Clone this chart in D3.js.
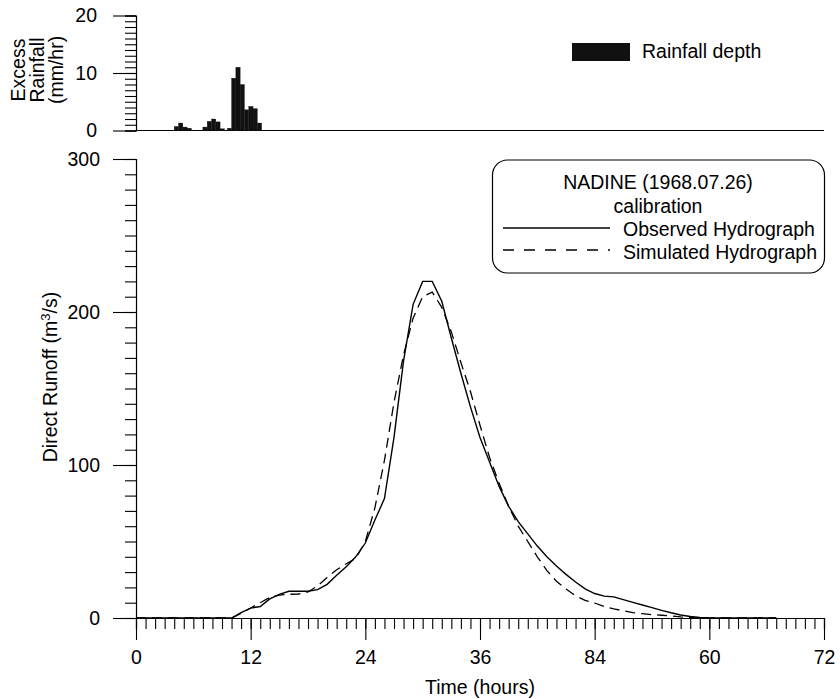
<!DOCTYPE html>
<html>
<head>
<meta charset="utf-8">
<script src="https://cdn.jsdelivr.net/npm/d3@7"></script>
<style>
  html, body { margin: 0; padding: 0; background: #fff; }
  svg { display: block; font-family: "Liberation Sans", Arial, sans-serif; }
</style>
</head>
<body>
<svg id="chart" width="840" height="699"></svg>
<script>
// ---------------- data ----------------
const hours = [0,1,2,3,4,5,6,7,8,9,10,11,12,13,14,15,16,17,18,19,20,21,22,23,24,25,26,27,28,29,30,31,32,33,34,35,36,37,38,39,40,41,42,43,44,45,46,47,48,49,50,51,52,53,54,55,56,57,58,59,60,61,62,63,64,65,66,67];
const observed = [0,0,0,0,0,0,0,0,0,0,0,3.5,6.5,7.5,12.5,15.5,17.5,17.5,17.5,18.5,22,28,33.5,40,49,64,78,118,168,205,220,220,207,183,160,138,118,102,86,73,63,55,47,40,34,28.5,23.5,19,16,14.3,13.8,12,10.2,8.5,6.8,5,3.4,2,1,0.3,0,0,0,0,0,0,0,0];
const simulated = [0,0,0,0,0,0,0,0,0,0,0,3,6.5,10,13.5,15,15.5,15.7,17,21,26.5,31.5,35.5,39,50,72,103,141,172,196,210,213,203,187,167,148,126,105,88,73,60,50,40,31,24,19,14.5,11.5,9.8,7.5,6,4.7,3.5,2.8,2.2,1.8,1.3,0.7,0.3,0,0,0,0,0,0,0,0,0];

const rainTime  = [4.0,4.45,4.9,5.35, 7.0,7.45,7.9,8.35,8.8,9.55, 10.0,10.45,10.9,11.35,11.8,12.25,12.7];
const rainValue = [0.7,1.3,0.6,0.4, 0.6,1.6,2.0,1.5,0.3,0.4, 9.1,11.0,8.0,3.6,4.2,3.8,1.3];
const rainStep = 0.45;

const xTickValues = [0,12,24,36,48,60,72];
const xTickLabels = ["0","12","24","36","84","60","72"];
const yMainTicks = [0,100,200,300];
const yRainTicks = [0,10,20];

const legendTitle = ["NADINE (1968.07.26)", "calibration"];
const seriesNames = ["Observed Hydrograph", "Simulated Hydrograph"];

// ---------------- layout ----------------
const svg = d3.select("#chart");
const FONT = 19.5;
const x = d3.scaleLinear().domain([0,72]).range([136,824]);
const yMain = d3.scaleLinear().domain([0,300]).range([618,159]);
const yRain = d3.scaleLinear().domain([0,20]).range([130.5,15.5]);

function styleAxis(g) {
  g.select(".domain").attr("stroke","#000").attr("stroke-width",1.2);
  g.selectAll(".tick line").attr("stroke","#000").attr("stroke-width",1.1);
  g.selectAll(".tick text").attr("font-size",FONT).attr("fill","#000")
    .attr("font-family",'"Liberation Sans", Arial, sans-serif');
}

// ---- top panel: rainfall ----
svg.append("g").attr("transform",`translate(${x(0)},0)`)
  .call(d3.axisLeft(yRain).tickValues(d3.range(0,21,1)).tickSize(11).tickFormat(""))
  .call(styleAxis);
svg.append("g").attr("transform",`translate(${x(0)},0)`)
  .call(d3.axisLeft(yRain).tickValues(yRainTicks).tickSize(23).tickPadding(16).tickFormat(d3.format("d")))
  .call(styleAxis)
  .call(g => g.select(".domain").remove());
svg.append("line").attr("x1",x(0)).attr("x2",x(72)).attr("y1",yRain(0)).attr("y2",yRain(0))
  .attr("stroke","#000").attr("stroke-width",1.2);

svg.append("g").selectAll("rect").data(rainTime).join("rect")
  .attr("x",(d)=>x(d))
  .attr("width",(d)=>x(d+rainStep)-x(d))
  .attr("y",(d,i)=>yRain(rainValue[i]))
  .attr("height",(d,i)=>yRain(0)-yRain(rainValue[i]))
  .attr("fill","#111").attr("stroke","#111").attr("stroke-width",0.3);

const rainLabel = ["Excess","Rainfall","(mm/hr)"];
svg.append("g").selectAll("text").data(rainLabel).join("text")
  .attr("transform",(d,i)=>`translate(${25+i*19},70) rotate(-90)`)
  .attr("text-anchor","middle").attr("font-size",FONT).attr("fill","#000")
  .text(d=>d);

svg.append("rect").attr("x",572).attr("y",43).attr("width",58).attr("height",18).attr("fill","#111");
svg.append("text").attr("x",642).attr("y",58).attr("font-size",FONT).attr("fill","#000").text("Rainfall depth");

// ---- main panel ----
svg.append("g").attr("transform",`translate(${x(0)},0)`)
  .call(d3.axisLeft(yMain).tickValues(d3.range(0,301,10)).tickSize(11).tickFormat(""))
  .call(styleAxis);
svg.append("g").attr("transform",`translate(${x(0)},0)`)
  .call(d3.axisLeft(yMain).tickValues(yMainTicks).tickSize(23).tickPadding(13).tickFormat(d3.format("d")))
  .call(styleAxis)
  .call(g => g.select(".domain").remove());
svg.append("g").attr("transform",`translate(0,${yMain(0)})`)
  .call(d3.axisBottom(x).tickValues(d3.range(0,73,1)).tickSize(11).tickFormat(""))
  .call(styleAxis);
svg.append("g").attr("transform",`translate(0,${yMain(0)})`)
  .call(d3.axisBottom(x).tickValues(xTickValues).tickSize(22).tickPadding(10)
        .tickFormat((d,i)=>xTickLabels[i]))
  .call(styleAxis)
  .call(g => g.select(".domain").remove());

svg.append("text").attr("x",480).attr("y",694).attr("text-anchor","middle")
  .attr("font-size",FONT).attr("fill","#000").text("Time (hours)");
const yl = svg.append("text").attr("transform","translate(57,377) rotate(-90)")
  .attr("text-anchor","middle").attr("font-size",FONT).attr("fill","#000");
yl.append("tspan").text("Direct Runoff (m");
yl.append("tspan").attr("font-size",13).attr("dy",-7).text("3");
yl.append("tspan").attr("dy",7).text("/s)");

const line = d3.line().x((d,i)=>x(hours[i])).y(d=>yMain(d));
svg.append("path").datum(simulated).attr("d",line)
  .attr("fill","none").attr("stroke","#000").attr("stroke-width",1.3)
  .attr("stroke-dasharray","10,6");
svg.append("path").datum(observed).attr("d",line)
  .attr("fill","none").attr("stroke","#000").attr("stroke-width",1.4);

const lg = svg.append("g");
lg.append("rect").attr("x",492.5).attr("y",160).attr("width",332).attr("height",113)
  .attr("rx",15).attr("ry",15).attr("fill","#fff").attr("stroke","#000").attr("stroke-width",1.2);
lg.selectAll("text.title").data(legendTitle).join("text").attr("class","title")
  .attr("x",658).attr("y",(d,i)=>189+i*24).attr("text-anchor","middle")
  .attr("font-size",FONT).attr("fill","#000").text(d=>d);
lg.selectAll("line.key").data(seriesNames).join("line").attr("class","key")
  .attr("x1",503).attr("x2",610).attr("y1",(d,i)=>228+i*22).attr("y2",(d,i)=>228+i*22)
  .attr("stroke","#000").attr("stroke-width",1.3)
  .attr("stroke-dasharray",(d,i)=>i===1?"11,10":null);
lg.selectAll("text.key").data(seriesNames).join("text").attr("class","key")
  .attr("x",623).attr("y",(d,i)=>236+i*23)
  .attr("font-size",FONT).attr("fill","#000").text(d=>d);
</script>
</body>
</html>
